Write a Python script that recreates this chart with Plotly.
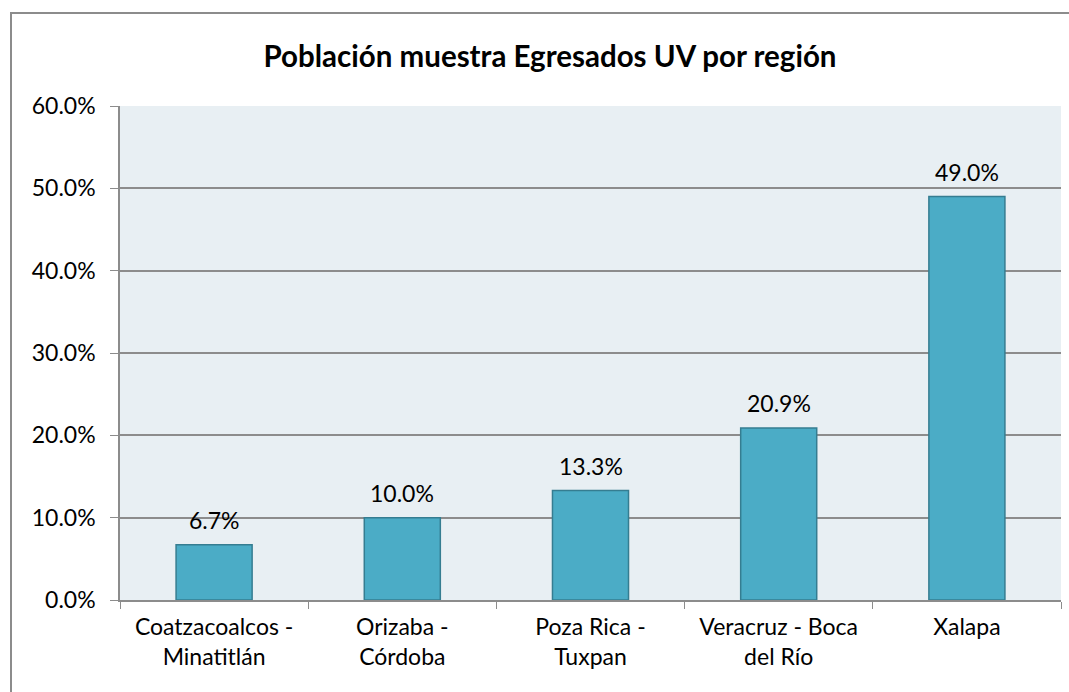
import plotly.graph_objects as go

regions = ['Coatzacoalcos -<br>Minatitlán', 'Orizaba -<br>Córdoba', 'Poza Rica -<br>Tuxpan',
           'Veracruz - Boca<br>del Río', 'Xalapa']
shares = [0.067, 0.100, 0.133, 0.209, 0.490]
y_ticks = [0, 0.1, 0.2, 0.3, 0.4, 0.5, 0.6]

FONT = 'Lato, Carlito, Calibri, sans-serif'

fig = go.Figure()
fig.add_trace(go.Bar(
    x=regions, y=shares,
    marker=dict(color='#4BACC6', line=dict(color='#357D91', width=1.5)),
))
# value labels, lifted a little above the bars like the original
for r, v in zip(regions, shares):
    fig.add_annotation(x=r, y=v, text=f'{v*100:.1f}%', showarrow=False,
                       yanchor='bottom', yshift=9,
                       font=dict(size=23, color='#000000', family=FONT))

fig.update_layout(
    width=1069, height=692,
    margin=dict(l=120, r=8, t=106, b=92),
    paper_bgcolor='white', plot_bgcolor='#E8EFF3',
    bargap=0.596, showlegend=False,
    font=dict(family=FONT, size=23, color='#000000'),
    title=dict(text='<b>Población muestra Egresados UV por región</b>',
               x=550/1069, xanchor='center', y=1-57/692, yanchor='middle',
               font=dict(size=29.5, family=FONT, color='#000000')),
    shapes=[dict(type='rect', xref='paper', yref='paper',
                 x0=(11-120)/941, x1=1.2, y0=-0.4, y1=(600-13)/494,
                 line=dict(color='#8C8C8C', width=2), layer='below')],
)
fig.update_yaxes(range=[0, 0.6], tickvals=y_ticks, tickformat='.1%',
                 showgrid=True, gridcolor='#8C8C8C', gridwidth=1.5,
                 showline=True, linecolor='#8C8C8C', linewidth=1.5,
                 ticks='outside', ticklen=8, tickcolor='#8C8C8C',
                 ticklabelstandoff=10,
                 zeroline=False, tickfont=dict(size=23))
fig.update_xaxes(showline=True, linecolor='#8C8C8C', linewidth=1.5,
                 ticks='outside', tickson='boundaries', ticklen=7, tickcolor='#8C8C8C',
                 ticklabelstandoff=6,
                 tickfont=dict(size=23))

# drop the default page margin so the figure sits at the window origin
fig.write_html('out.html', config={'displayModeBar': False},
               post_script="document.body.style.margin='0';")
